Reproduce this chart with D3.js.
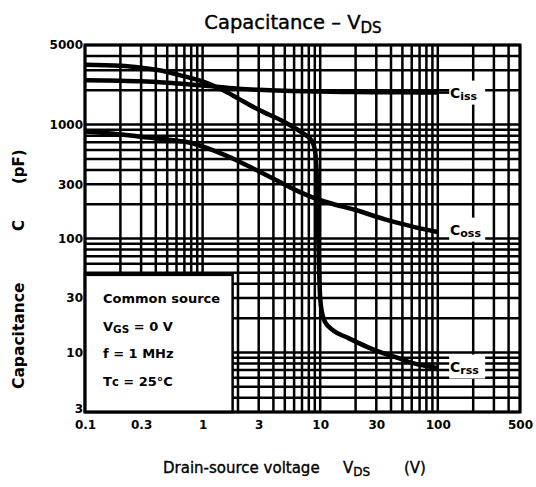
<!DOCTYPE html>
<html>
<head>
<meta charset="utf-8">
<script src="https://cdn.jsdelivr.net/npm/d3@7"></script>
<style>
body { margin:0; background:#fff; }
text { font-family: "DejaVu Sans", sans-serif; font-weight: bold; fill:#000; }
</style>
</head>
<body>
<div id="vis"></div>
<script>
var w = 536, h = 487;

// curves: [VDS (V), C (pF)]
var ciss = [[0.1,2450],[0.2,2430],[0.3,2400],[0.5,2330],[1,2200],[2,2070],[3,2020],[5,1980],[10,1950],[20,1930],[50,1920],[100,1910]];
var coss = [[0.1,870],[0.2,820],[0.35,770],[0.5,740],[0.8,690],[1.2,600],[2,480],[3,390],[4.5,315],[6,270],[8,237],[12,205],[20,178],[35,148],[60,128],[100,114]];
var crss = [[0.1,3350],[0.2,3280],[0.3,3150],[0.5,2900],[0.7,2650],[1,2400],[1.5,2000],[2,1700],[3,1350],[5,1050],[7,850],[8.5,720],[9.1,560],[9.4,300],[9.6,120],[9.8,50],[10,30],[10.4,22],[11,18.5],[13,15.5],[17,13.5],[25,11.2],[32,10.1],[45,9],[60,8.1],[80,7.6],[100,7.3]];

var xTicks = [0.1,0.3,1,3,10,30,100,500];
var yTicks = [3,10,30,100,300,1000,5000];
var notes = ["Common source","VGS = 0 V","f = 1 MHz","Tc = 25\u00b0C"];

var svg = d3.select("div#vis").append("svg")
  .attr("width", w)
  .attr("height", h);

var x = d3.scaleLog().domain([0.1,500]).range([85,520]);
var y = d3.scaleLog().domain([3,5000]).range([412,45]);

// grid
svg.append("g").selectAll("line").data(x.ticks()).enter().append("line")
  .attr("x1", function(d){return x(d);})
  .attr("x2", function(d){return x(d);})
  .attr("y1", y(3)).attr("y2", y(5000))
  .attr("stroke","#000").attr("stroke-width",2.5);

svg.append("g").selectAll("line").data(y.ticks()).enter().append("line")
  .attr("x1", x(0.1)).attr("x2", x(500))
  .attr("y1", function(d){return y(d);})
  .attr("y2", function(d){return y(d);})
  .attr("stroke","#000").attr("stroke-width",2.5);

// label boxes (hide grid behind the curve names)
var labels = [{n:"C", s:"iss", v:ciss[ciss.length-1][1]},
              {n:"C", s:"oss", v:coss[coss.length-1][1]*1.05},
              {n:"C", s:"rss", v:crss[crss.length-1][1]*1.03}];

svg.selectAll("rect.lab").data(labels).enter().append("rect")
  .attr("class","lab")
  .attr("x", x(125))
  .attr("y", function(d){return y(d.v)-12;})
  .attr("width", 36)
  .attr("height", 24)
  .attr("fill","#fff");

// legend box
svg.append("rect")
  .attr("x", x(0.1)).attr("y", y(48))
  .attr("width", x(1.8)-x(0.1)).attr("height", y(3)-y(48))
  .attr("fill","#fff").attr("stroke","#000").attr("stroke-width",2.5);

svg.selectAll("text.note").data(notes).enter().append("text")
  .attr("class","note")
  .attr("x", 103)
  .attr("y", function(d,i){return 303 + i*27.5;})
  .style("font-size","13px")
  .each(function(d){
    var t = d3.select(this);
    if (d.indexOf("VGS") === 0) {
      t.append("tspan").text("V");
      t.append("tspan").attr("dy",2).style("font-size","10.5px").text("GS");
      t.append("tspan").attr("dy",-2).text(" = 0 V");
    } else if (d.indexOf("Tc") === 0) {
      t.append("tspan").text("T");
      t.append("tspan").style("font-size","11.5px").text("c");
      t.append("tspan").text(d.slice(2));
    } else t.text(d);
  });

// border
svg.append("rect")
  .attr("x", x(0.1)).attr("y", y(5000))
  .attr("width", x(500)-x(0.1)).attr("height", y(3)-y(5000))
  .attr("fill","none").attr("stroke","#000").attr("stroke-width",3);

// curves
var line = d3.line()
  .x(function(d){return x(d[0]);})
  .y(function(d){return y(d[1]);})
  .curve(d3.curveMonotoneX);

svg.selectAll("path.c").data([ciss,coss,crss]).enter().append("path")
  .attr("class","c")
  .attr("d", line)
  .attr("fill","none").attr("stroke","#000").attr("stroke-width",4.5);

svg.append("line")
  .attr("x1", x(100)).attr("x2", x(125))
  .attr("y1", y(ciss[ciss.length-1][1])).attr("y2", y(ciss[ciss.length-1][1]))
  .attr("stroke","#000").attr("stroke-width",2.5);

svg.selectAll("text.lab").data(labels).enter().append("text")
  .attr("class","lab")
  .attr("x", x(127))
  .attr("y", function(d){return y(d.v)+5;})
  .style("font-size","14px")
  .each(function(d){
    var t = d3.select(this);
    t.append("tspan").text(d.n);
    t.append("tspan").attr("dy",2).style("font-size","11px").text(d.s);
  });

// axes
var ax = svg.append("g").attr("transform","translate(0,"+y(3)+")")
  .call(d3.axisBottom(x).tickValues(xTicks).tickFormat(function(d){return d;}).tickSize(0).tickPadding(8));
var ay = svg.append("g").attr("transform","translate("+x(0.1)+",0)")
  .call(d3.axisLeft(y).tickValues(yTicks).tickFormat(function(d){return d;}).tickSize(0).tickPadding(2));
ax.select(".domain").remove();
ay.select(".domain").remove();
svg.selectAll(".tick text").style("font-size","12px").style("font-family","DejaVu Sans").style("font-weight","bold");
ay.selectAll(".tick text").filter(function(d){return d === 3;}).attr("dy","0.05em");

// titles
var title = svg.append("text").attr("x", 293).attr("y", 29)
  .attr("text-anchor","middle").style("font-size","19.5px").style("font-weight","normal")
  .attr("stroke","#000").attr("stroke-width",0.4);
title.append("tspan").text("Capacitance \u2013 V");
title.append("tspan").attr("dy",4).style("font-size","15px").text("DS");

var xt = svg.append("text").attr("x", 163).attr("y", 473).style("font-size","15px").style("font-weight","normal")
  .attr("stroke","#000").attr("stroke-width",0.35);
xt.append("tspan").text("Drain-source voltage");
xt.append("tspan").attr("x",343).text("V");
xt.append("tspan").attr("dy",3).style("font-size","12px").text("DS");
xt.append("tspan").attr("x",404).attr("dy",-3).text("(V)");

svg.append("text").attr("transform","translate(24,389) rotate(-90)").style("font-size","15.5px").text("Capacitance");
svg.append("text").attr("transform","translate(24,231) rotate(-90)").style("font-size","15px").text("C");
svg.append("text").attr("transform","translate(24,184) rotate(-90)").style("font-size","15px").text("(pF)");
</script>
</body>
</html>
